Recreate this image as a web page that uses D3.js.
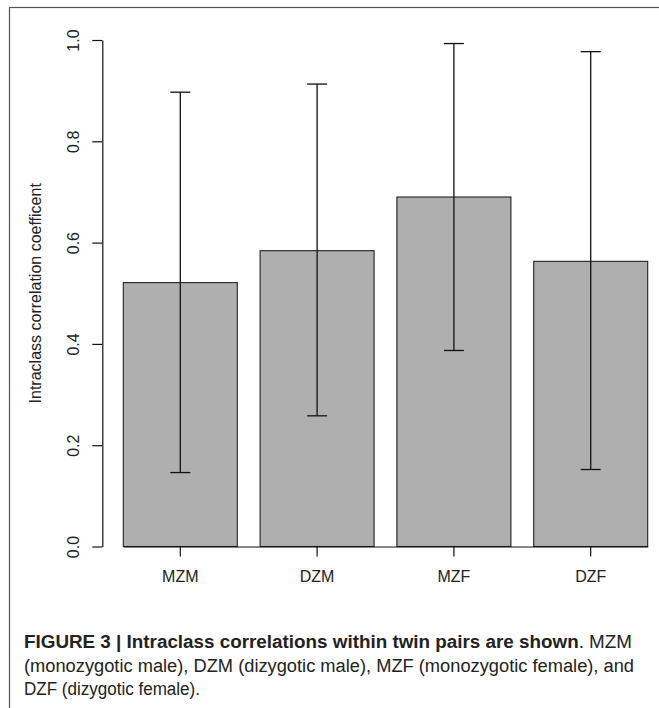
<!DOCTYPE html>
<html>
<head>
<meta charset="utf-8">
<script src="https://cdn.jsdelivr.net/npm/d3@7"></script>
<style>
  body { margin: 0; background: #fff; }
  svg { display: block; }
  .axis text { font-family: "Liberation Sans", Arial, sans-serif; font-size: 16px; fill: #222; }
  .axis path, .axis line { stroke: #111; stroke-width: 1.2; }
  .caption { font-family: "Liberation Sans Narrow", "Liberation Sans", sans-serif; font-size: 18px; fill: #222; }
</style>
</head>
<body>
<svg class="chart"></svg>
<script>
var width = 659,
    height = 708;

// values
var groups = ["MZM", "DZM", "MZF", "DZF"];
var icc = [0.521, 0.584, 0.690, 0.563];
var lower = [0.146, 0.258, 0.387, 0.152];
var upper = [0.897, 0.913, 0.993, 0.977];
var yTicks = [0, 0.2, 0.4, 0.6, 0.8, 1.0];

var chart = d3.select(".chart")
    .attr("width", width)
    .attr("height", height);

// outer frame of the figure panel
chart.append("rect")
    .attr("x", 9.5)
    .attr("y", 7.5)
    .attr("width", 660)
    .attr("height", 720)
    .attr("fill", "none")
    .attr("stroke", "#555")
    .attr("stroke-width", 1.2);

var x = d3.scaleBand()
    .domain(groups)
    .range([123.3, 647.7])
    .paddingInner(0.2 / 1.2)
    .paddingOuter(0);

var y = d3.scaleLinear()
    .domain([0, 1])
    .range([546.5, 40]);

var data = groups.map(function(g, i) {
  return {group: g, icc: icc[i], lo: lower[i], hi: upper[i]};
});

chart.selectAll("rect.bar")
    .data(data)
  .enter().append("rect")
    .attr("class", "bar")
    .attr("x", function(d) { return x(d.group); })
    .attr("y", function(d) { return y(d.icc); })
    .attr("width", x.bandwidth())
    .attr("height", function(d) { return y(0) - y(d.icc); })
    .attr("fill", "#afafaf")
    .attr("stroke", "#222")
    .attr("stroke-width", 1.1);

// error bars
var err = chart.selectAll("g.err")
    .data(data)
  .enter().append("g")
    .attr("class", "err")
    .attr("stroke", "#111")
    .attr("stroke-width", 1.3)
    .attr("transform", function(d) { return "translate(" + (x(d.group) + x.bandwidth() / 2) + ",0)"; });

err.append("line")
    .attr("y1", function(d) { return y(d.lo); })
    .attr("y2", function(d) { return y(d.hi); });
err.append("line")
    .attr("x1", -10).attr("x2", 10)
    .attr("y1", function(d) { return y(d.hi); })
    .attr("y2", function(d) { return y(d.hi); });
err.append("line")
    .attr("x1", -10).attr("x2", 10)
    .attr("y1", function(d) { return y(d.lo); })
    .attr("y2", function(d) { return y(d.lo); });

// y axis, labels turned like R's default
var yAxis = chart.append("g")
    .attr("class", "axis")
    .attr("transform", "translate(102.3,0)")
    .call(d3.axisLeft(y).tickValues(yTicks).tickFormat(d3.format(".1f")).tickSize(10).tickSizeOuter(0));

yAxis.selectAll("text")
    .attr("x", null)
    .attr("dy", null)
    .attr("text-anchor", "middle")
    .attr("transform", "translate(-23.5,0) rotate(-90)");

chart.append("g")
    .attr("class", "axis")
    .attr("transform", "translate(0,546.5)")
    .call(d3.axisBottom(x).tickSize(10).tickSizeOuter(0))
    .selectAll("text")
      .attr("dy", null)
      .attr("y", 35.5);

chart.append("text")
    .attr("class", "axis")
    .attr("transform", "translate(41,293.3) rotate(-90)")
    .attr("text-anchor", "middle")
    .style("font-family", "'Liberation Sans', Arial, sans-serif")
    .style("font-size", "16px")
    .style("fill", "#222")
    .text("Intraclass correlation coefficent");

// caption, squeezed to mimic the condensed journal face
var cap = chart.append("text")
    .attr("class", "caption")
    .attr("x", 24)
    .attr("y", 648)
    .attr("textLength", 608)
    .attr("lengthAdjust", "spacingAndGlyphs");
cap.append("tspan")
    .style("font-weight", "bold")
    .text("FIGURE 3 | Intraclass correlations within twin pairs are shown");
cap.append("tspan")
    .text(". MZM");

chart.append("text")
    .attr("class", "caption")
    .attr("x", 24)
    .attr("y", 672)
    .attr("textLength", 610)
    .attr("lengthAdjust", "spacingAndGlyphs")
    .text("(monozygotic male), DZM (dizygotic male), MZF (monozygotic female), and");

chart.append("text")
    .attr("class", "caption")
    .attr("x", 24)
    .attr("y", 695)
    .attr("textLength", 176)
    .attr("lengthAdjust", "spacingAndGlyphs")
    .text("DZF (dizygotic female).");
</script>
</body>
</html>
